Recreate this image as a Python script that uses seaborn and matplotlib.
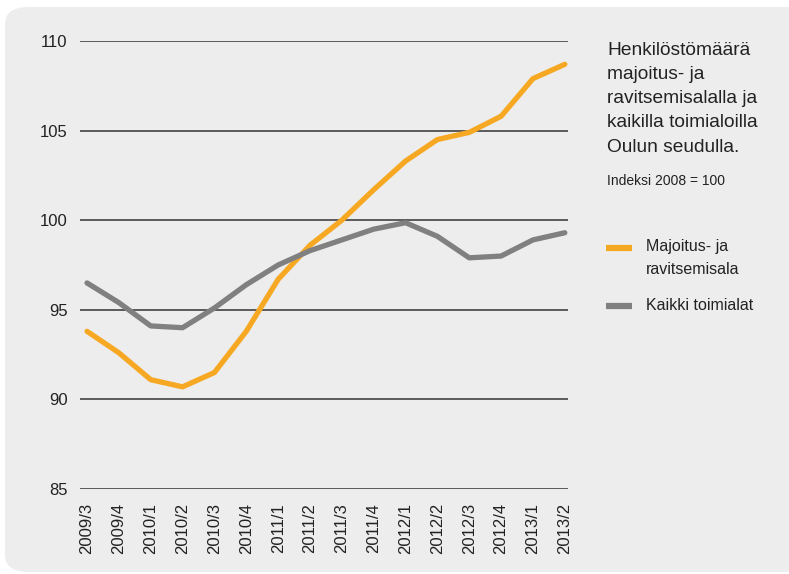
import pandas as pd
import numpy as np
import matplotlib
matplotlib.use("Agg")
import matplotlib.pyplot as plt
import seaborn as sns
from matplotlib.patches import FancyBboxPatch

# Neljännekset
kaudet = ["2009/3", "2009/4", "2010/1", "2010/2", "2010/3", "2010/4",
          "2011/1", "2011/2", "2011/3", "2011/4", "2012/1", "2012/2",
          "2012/3", "2012/4", "2013/1", "2013/2"]
# Indeksi 2008 = 100
majoitus = [93.8, 92.6, 91.1, 90.7, 91.5, 93.8, 96.7, 98.6,
            100.0, 101.7, 103.3, 104.5, 104.9, 105.8, 107.9, 108.7]
kaikki = [96.5, 95.4, 94.1, 94.0, 95.1, 96.4, 97.5, 98.3,
          98.9, 99.5, 99.86, 99.1, 97.9, 98.0, 98.9, 99.3]
sarjat = ["Majoitus- ja\nravitsemisala", "Kaikki toimialat"]
varit = ["#f7a823", "#808080"]
y_ticks = [85, 90, 95, 100, 105, 110]

df = pd.DataFrame({
    "kausi": kaudet * 2,
    "x": list(range(len(kaudet))) * 2,
    "arvo": majoitus + kaikki,
    "sarja": [sarjat[0]] * len(kaudet) + [sarjat[1]] * len(kaudet),
})

sns.set_style("white")
plt.rcParams["font.family"] = ["Liberation Sans Narrow", "Liberation Sans", "DejaVu Sans"]

fig = plt.figure(figsize=(7.89, 5.74), dpi=100)
fig.patch.set_facecolor("white")
# harmaa tausta pyöristetyin kulmin (oikea reuna leikkautuu pois)
tausta = FancyBboxPatch((5 / 789, 1 - 572 / 574), 900 / 789, 565 / 574,
                        boxstyle="round,pad=0,rounding_size=0.03",
                        transform=fig.transFigure, facecolor="#ededed",
                        edgecolor="none", zorder=-10)
fig.patches.append(tausta)

ax = fig.add_axes([80 / 789, 1 - 489 / 574, (568 - 80) / 789, (489 - 41) / 574])
ax.set_facecolor("#ededed")

for y in y_ticks:
    ax.axhline(y, color="#333333", lw=1.1, zorder=1)

sns.lineplot(data=df, x="x", y="arvo", hue="sarja", palette=varit,
             linewidth=3.8, ax=ax, legend=False, zorder=3,
             solid_capstyle="round", solid_joinstyle="round")

ax.set_xlim(-0.22, 15.1)
ax.set_ylim(85, 110)
ax.set_yticks(y_ticks)
ax.set_yticklabels([str(v) for v in y_ticks], fontsize=12, color="#222222")
ax.set_xticks(range(len(kaudet)))
ax.set_xticklabels(kaudet, rotation=90, fontsize=12, color="#222222")
ax.tick_params(axis="y", length=0, pad=9)
ax.tick_params(axis="x", length=7, width=1, color="#333333", pad=3, direction="out")
ax.set_xlabel("")
ax.set_ylabel("")
for s in ax.spines.values():
    s.set_visible(False)

# otsikko oikealla
fig.text(607 / 789, 1 - 42 / 574,
         "Henkilöstömäärä\nmajoitus- ja\nravitsemisalalla ja\nkaikilla toimialoilla\nOulun seudulla.",
         fontsize=13.8, va="top", ha="left", color="#222222", linespacing=1.55)
fig.text(607 / 789, 1 - 181 / 574, "Indeksi 2008 = 100",
         fontsize=10, va="center", ha="left", color="#222222")

# selite
for nimi, vari, yy in zip(sarjat, varit, [248, 306]):
    fig.add_artist(plt.Line2D([606 / 789, 632 / 789], [1 - yy / 574] * 2,
                              color=vari, lw=4.5, solid_capstyle="butt",
                              transform=fig.transFigure))
fig.text(646 / 789, 1 - 239 / 574, sarjat[0], fontsize=11.5, va="top",
         ha="left", color="#222222", linespacing=1.7)
fig.text(646 / 789, 1 - 306 / 574, sarjat[1], fontsize=11.5, va="center",
         ha="left", color="#222222")

fig.savefig("out.png", dpi=100, facecolor="white")
